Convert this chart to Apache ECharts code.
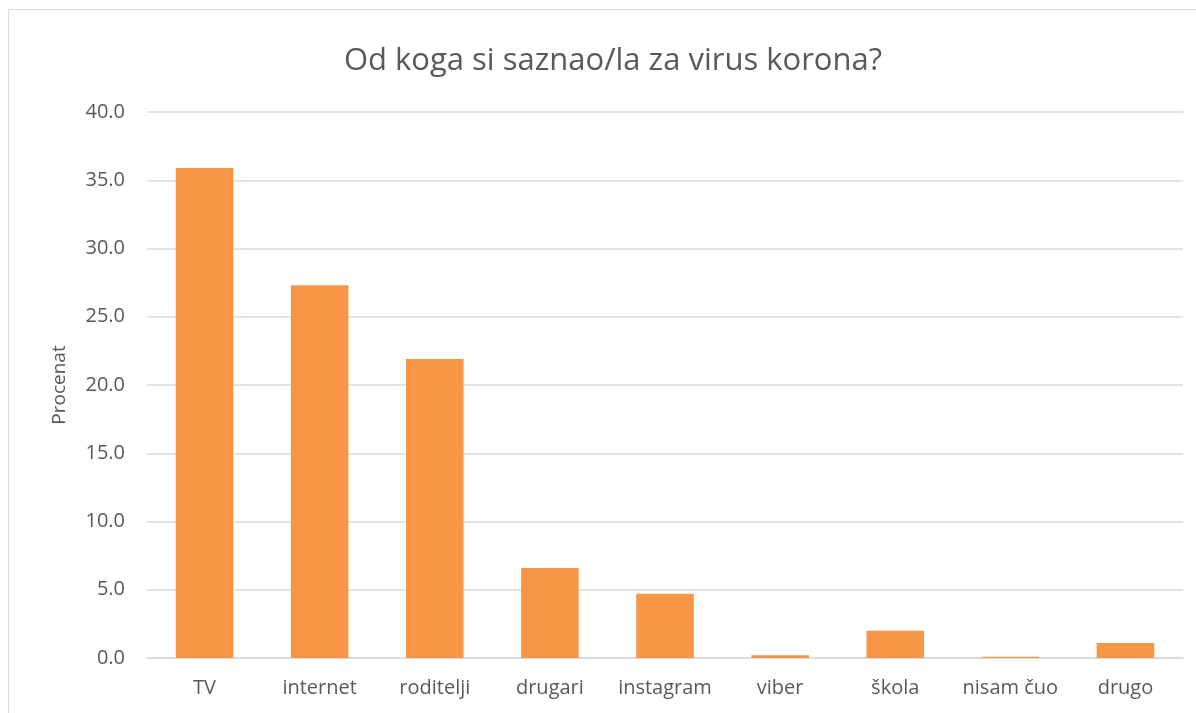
<!DOCTYPE html>
<html>
<head>
<meta charset="utf-8">
<script src="https://cdn.jsdelivr.net/npm/echarts@6/dist/echarts.min.js"></script>
<style>
  html, body { margin: 0; padding: 0; background: #fff; }
  #frame { position: absolute; left: 8px; top: 9px; width: 1200px; height: 720px; border: 1px solid #d9d9d9; box-sizing: border-box; }
  #chart { position: absolute; left: 0; top: 0; width: 1196px; height: 713px; }
</style>
</head>
<body>
<div id="frame"></div>
<div id="chart"></div>
<script>
const titleText = "Od koga si saznao/la za virus korona?"
const categories = ["TV", "internet", "roditelji", "drugari", "instagram", "viber", "škola", "nisam čuo", "drugo"]
const values = [35.9, 27.3, 21.9, 6.6, 4.7, 0.2, 2.0, 0.1, 1.1]
const yTicks = { min: 0, max: 40, interval: 5 }

var chartDom = document.getElementById("chart")
var myChart = echarts.init(chartDom)
var font = "'Open Sans', 'Liberation Sans', sans-serif"
var option = {
    animation: false,
    title: {
        text: titleText,
        left: 608,
        textAlign: "center",
        top: 41,
        textStyle: { fontFamily: font, fontSize: 31, fontWeight: "normal", color: "#595959" }
    },
    grid: { left: 147, right: 13, top: 112, bottom: 55 },
    xAxis: {
        type: "category",
        data: categories,
        axisLine: { lineStyle: { color: "#d9d9d9", width: 1.5 } },
        axisTick: { show: false },
        axisLabel: { interval: 0, fontFamily: font, fontSize: 20, color: "#595959", margin: 20 }
    },
    yAxis: {
        type: "value",
        min: yTicks.min,
        max: yTicks.max,
        interval: yTicks.interval,
        name: "Procenat",
        nameLocation: "middle",
        nameGap: 78,
        nameTextStyle: { fontFamily: font, fontSize: 19, color: "#595959" },
        axisLine: { show: false },
        axisTick: { show: false },
        splitLine: { lineStyle: { color: "#d9d9d9", width: 1.5 } },
        axisLabel: {
            fontFamily: font, fontSize: 20, color: "#595959", margin: 22,
            formatter: function (v) { return v.toFixed(1) }
        }
    },
    series: [{
        type: "bar",
        data: values,
        barWidth: "50%",
        itemStyle: { color: "#F79646" }
    }]
}
myChart.setOption(option)
</script>
</body>
</html>
